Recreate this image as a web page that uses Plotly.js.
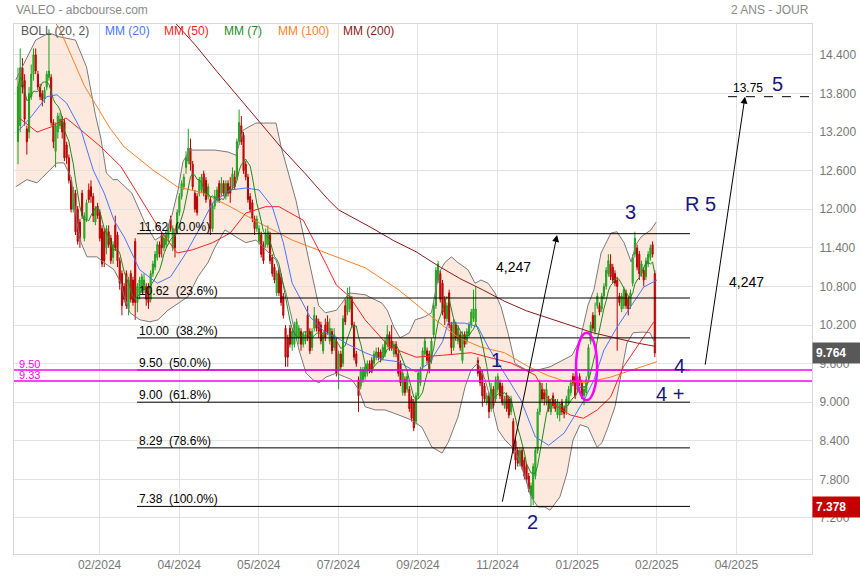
<!DOCTYPE html>
<html><head><meta charset="utf-8">
<script src="https://cdn.plot.ly/plotly-3.0.1.min.js"></script>
<style>html,body{margin:0;padding:0;background:#fff}#chart{width:860px;height:580px}</style>
</head><body><div id="chart"></div>
<script>
// ---- Daily candles (one entry per trading day) ----
const open = [
13.05,13.3,14.2,14.0,13.25,13.2,13.75,14.1,14.4,14.1,
13.9,13.8,13.72,13.9,14.05,14.05,13.35,12.9,13.2,13.3,
13.4,13.35,13.0,12.8,12.45,12.0,12.25,12.0,11.8,12.25,
11.55,11.85,12.3,12.35,12.2,11.8,12.05,11.95,11.7,11.65,
11.4,11.65,11.55,11.25,11.75,11.6,11.2,11.0,10.8,11.0,
10.45,11.0,10.9,11.5,10.55,10.7,10.75,10.75,10.8,10.8,
10.6,11.0,11.1,11.25,11.45,11.6,11.4,11.45,11.55,11.85,
11.4,11.6,11.7,11.95,12.2,12.35,12.65,12.75,12.95,12.7,
12.25,12.2,12.25,12.3,12.55,12.45,12.2,12.15,11.7,12.05,
12.15,12.4,12.25,12.4,12.2,12.4,12.35,12.35,12.5,12.5,
13.05,13.3,13.15,12.7,12.5,12.2,12.1,11.85,11.7,11.5,
11.6,11.45,11.45,11.45,11.6,11.25,11.1,10.7,11.05,10.95,
10.65,10.15,10.0,10.15,9.9,9.9,10.0,10.0,10.1,9.9,
9.95,10.35,10.1,9.85,10.15,10.3,10.25,10.2,9.8,10.2,
10.25,9.95,10.1,9.85,9.95,9.5,9.75,9.6,10.5,10.4,
10.45,10.6,10.2,9.75,9.35,9.25,9.35,9.4,9.45,9.6,
9.65,9.6,9.7,9.78,9.78,9.7,9.75,9.9,10.05,9.95,
9.75,9.9,9.75,9.6,9.15,9.35,9.2,9.2,9.05,9.0,
8.7,9.1,9.3,9.55,9.75,9.8,9.75,9.65,10.05,10.5,
10.9,11.0,10.85,10.6,10.3,10.7,10.2,9.85,10.2,9.95,
10.05,9.65,10.05,9.95,10.05,10.2,10.3,10.25,9.65,9.5,
9.45,9.25,9.0,9.1,8.9,9.2,9.05,9.2,9.3,9.25,
8.95,9.1,9.05,8.85,8.7,8.4,8.25,8.05,8.25,8.1,
8.0,7.85,7.55,7.5,7.85,8.25,8.85,9.2,9.15,9.0,
9.05,8.85,9.1,9.0,8.8,8.8,9.0,8.9,8.85,9.0,
9.15,9.4,9.4,9.2,9.4,9.3,9.1,9.15,9.4,9.95,
10.35,10.1,10.5,10.5,10.45,10.65,10.8,11.0,11.15,11.1,
11.0,10.9,10.65,10.45,10.5,10.7,10.6,10.5,10.85,11.3,
11.4,11.3,11.0,11.05,10.95,11.15,11.25,11.45,11.0];
const high = [
14.2,14.5,14.35,14.1,13.3,13.9,14.25,14.5,14.5,14.15,
13.95,13.85,13.9,14.15,14.8,14.1,13.4,13.35,13.5,13.5,
13.45,13.4,13.05,12.85,12.5,12.35,12.3,12.05,11.85,12.3,
11.95,12.15,12.4,12.45,12.25,12.05,12.1,12.0,11.75,11.7,
11.75,11.75,11.6,11.5,11.9,11.65,11.25,11.05,10.85,11.05,
10.95,11.05,10.95,11.55,10.85,10.95,11.0,11.0,10.85,10.85,
11.05,11.2,11.35,11.5,11.5,11.65,11.6,11.65,11.75,11.9,
11.75,11.7,12.0,12.25,12.45,12.55,12.9,13.25,13.1,12.75,
12.3,12.25,12.5,12.55,12.6,12.5,12.4,12.2,12.1,12.3,
12.35,12.45,12.5,12.45,12.45,12.45,12.5,12.65,12.6,13.1,
13.55,13.45,13.2,12.75,12.55,12.25,12.15,11.9,11.9,11.75,
11.65,11.5,11.7,11.75,11.65,11.3,11.15,11.05,11.1,11.0,
10.7,10.2,10.05,10.2,10.15,10.25,10.3,10.2,10.15,10.1,
10.1,10.5,10.15,10.15,10.48,10.35,10.3,10.25,10.1,10.3,
10.35,10.3,10.15,10.15,10.0,9.8,9.8,10.35,10.6,10.78,
10.8,10.65,10.25,9.8,9.4,9.55,9.55,9.6,9.65,9.65,
9.7,9.8,9.85,9.85,9.82,9.9,10.0,10.2,10.1,10.2,
9.95,9.95,9.8,9.65,9.5,9.4,9.45,9.25,9.1,9.05,
9.15,9.5,9.55,9.85,10.0,9.85,9.8,10.0,10.55,11.1,
11.2,11.05,10.9,10.65,10.55,10.75,10.25,10.3,10.25,10.2,
10.1,10.1,10.1,10.15,10.25,10.45,10.75,10.8,9.7,9.55,
9.5,9.3,9.15,9.15,9.3,9.25,9.4,9.45,9.35,9.3,
9.1,9.15,9.1,9.1,8.75,8.45,8.3,8.3,8.3,8.15,
8.05,7.9,7.75,8.05,8.3,8.9,9.35,9.3,9.2,9.3,
9.1,9.05,9.15,9.05,9.05,9.0,9.05,8.95,9.1,9.25,
9.35,9.45,9.45,9.4,9.45,9.35,9.25,9.4,9.9,10.25,
10.4,10.55,10.7,10.55,10.7,10.85,11.1,11.3,11.3,11.15,
11.05,10.95,10.7,10.7,10.8,10.75,10.65,10.75,11.3,11.65,
11.45,11.35,11.2,11.1,11.25,11.35,11.45,11.5,11.05];
const low = [
12.7,13.2,13.8,13.3,12.85,13.1,13.7,14.0,14.1,13.85,
13.7,13.6,13.65,13.85,14.0,13.3,12.95,12.65,13.1,13.25,
13.1,12.75,12.7,12.4,11.95,11.95,11.6,11.45,11.4,11.85,
11.5,11.8,12.1,12.1,11.8,11.75,11.85,11.5,11.1,11.1,
11.3,11.4,11.15,11.15,11.35,11.1,10.75,10.35,10.55,10.45,
10.35,10.55,10.5,10.28,10.4,10.6,10.7,10.7,10.5,10.45,
10.55,10.95,11.05,11.2,11.25,11.25,11.35,11.4,11.5,11.65,
11.35,11.25,11.65,11.9,12.15,12.3,12.55,12.7,12.6,12.3,
11.95,11.9,12.2,12.25,12.2,12.1,12.15,11.6,11.65,12.0,
12.1,12.1,12.2,12.2,12.15,12.2,12.1,12.3,12.3,12.45,
13.0,13.0,12.55,12.45,12.1,11.95,11.8,11.6,11.65,11.45,
11.25,11.15,11.4,11.4,11.15,10.95,10.85,10.65,10.65,10.5,
10.3,9.55,9.55,9.85,9.8,9.85,9.95,9.9,9.8,9.85,
9.9,9.95,9.75,9.8,10.1,10.1,10.0,9.9,9.75,9.95,
10.05,9.9,9.75,9.8,9.4,9.2,9.5,9.55,10.2,10.35,
10.4,10.15,9.65,9.55,8.85,9.2,9.3,9.35,9.4,9.45,
9.45,9.55,9.65,9.65,9.62,9.65,9.7,9.85,9.8,9.8,
9.7,9.7,9.4,9.25,9.1,9.1,9.15,8.85,8.7,8.55,
8.65,9.05,9.25,9.5,9.7,9.6,9.45,9.6,10.0,10.45,
10.85,10.55,10.35,10.2,10.25,10.15,9.75,9.8,9.95,9.9,
9.8,9.6,9.85,9.9,10.0,10.15,10.25,10.2,9.4,9.25,
8.93,9.0,8.95,8.75,8.85,8.9,9.0,9.15,9.05,8.95,
8.9,8.85,8.75,8.8,8.2,7.95,8.0,8.0,7.95,7.8,
7.75,7.6,7.378,7.4,7.8,8.2,8.8,9.0,8.95,8.95,
8.85,8.8,8.9,8.85,8.75,8.7,8.8,8.75,8.8,8.95,
9.1,9.25,9.05,9.15,9.25,9.05,8.95,9.1,9.35,9.9,
10.1,10.05,10.45,10.35,10.4,10.6,10.75,10.95,10.9,10.85,
10.8,9.8,10.5,10.4,10.45,10.45,10.35,10.45,10.8,11.25,
11.05,10.9,10.95,10.8,10.9,11.1,11.2,11.25,9.7];
const close = [
13.9,14.2,13.9,13.4,13.05,13.8,14.1,14.4,14.15,13.9,
13.75,13.7,13.85,14.1,14.15,13.35,13.05,13.3,13.45,13.4,
13.2,12.8,12.8,12.45,12.0,12.3,11.65,11.5,11.55,11.9,
11.9,12.1,12.15,12.2,11.9,12.0,11.9,11.55,11.15,11.2,
11.7,11.45,11.2,11.45,11.4,11.2,10.85,10.5,10.6,10.5,
10.9,10.6,10.55,10.55,10.8,10.9,10.95,10.9,10.6,10.55,
11.0,11.15,11.3,11.45,11.3,11.4,11.55,11.6,11.7,11.7,
11.7,11.4,11.95,12.2,12.4,12.5,12.8,12.95,12.7,12.35,
12.0,11.95,12.45,12.5,12.25,12.15,12.35,11.7,12.05,12.2,
12.3,12.15,12.4,12.25,12.4,12.25,12.25,12.55,12.35,13.05,
13.35,13.05,12.6,12.5,12.15,12.0,11.85,11.7,11.85,11.7,
11.3,11.2,11.6,11.65,11.2,11.0,10.9,11.0,10.7,10.55,
10.35,9.7,9.7,9.9,10.1,10.2,10.25,10.15,9.9,10.05,
10.05,10.0,9.8,10.1,10.35,10.15,10.1,9.95,10.05,10.0,
10.1,10.15,9.8,10.05,9.45,9.75,9.55,10.3,10.25,10.6,
10.65,10.2,9.7,9.6,9.1,9.5,9.5,9.55,9.6,9.5,
9.5,9.75,9.78,9.7,9.68,9.85,9.95,10.05,9.85,9.85,
9.9,9.75,9.45,9.3,9.45,9.15,9.4,8.9,8.75,8.6,
9.1,9.45,9.5,9.8,9.95,9.65,9.5,9.95,10.5,11.05,
11.15,10.6,10.4,10.3,10.5,10.2,9.85,10.25,10.0,10.15,
9.85,10.05,9.9,10.1,10.2,10.4,10.45,10.45,9.45,9.3,
9.1,9.05,9.1,8.85,9.2,8.95,9.35,9.4,9.1,9.0,
9.05,8.9,8.8,9.05,8.25,8.1,8.05,8.25,8.0,7.85,
7.8,7.65,7.7,8.0,8.25,8.85,9.3,9.05,9.05,9.2,
8.9,9.0,8.95,8.9,8.98,8.95,8.85,8.82,9.05,9.2,
9.3,9.3,9.1,9.35,9.3,9.1,9.2,9.35,9.85,10.2,
10.15,10.35,10.65,10.4,10.65,10.8,11.05,11.2,10.95,10.9,
10.85,10.8,10.55,10.65,10.75,10.5,10.45,10.7,11.25,11.55,
11.1,11.0,11.15,10.9,11.2,11.3,11.4,11.3,9.764];

// ---- Indicator lines (bar index, value) ----
const bollUpBar = [-1,8,14,19,26,31,35,37.5,40,43,45,51.5,57.4,62,66.5,69.6,72.4,74.6,77.8,89,95,98.6,101.8,107.6,116.7,119,125.7,131.6,136,139,144,146.5,149.7,157,164.6,167,170,172.8,177,179.6,184,187,190.4,193,196,199,203.5,206.7,209.4,212.6,215.7,218.5,221.6,224.8,231.6,240.6,246.5,250.6,254.2,257.8,260.5,263.7,268.2,270.9,274.1,277.3,279.5,281.8,286.3,288.6];
const bollUp = [14.01,14.63,14.74,14.68,14.63,14.21,13.47,13.1,12.56,12.46,12.46,12.25,11.79,11.52,11.62,11.9,12.3,12.74,12.92,12.92,12.89,12.84,13.23,13.34,13.34,12.97,12.14,11.21,10.5,10.39,10.43,10.54,10.70,10.67,10.54,10.43,10.17,10.0,10.08,10.28,10.33,10.39,11.01,11.17,11.26,11.17,11.06,10.85,10.9,10.85,10.7,10.48,10.08,9.6,9.47,9.55,9.66,9.73,9.97,10.51,10.75,11.32,11.63,11.65,11.48,11.18,11.45,11.57,11.68,11.8];
const bollLowBar = [-1,4,8.6,13,17.6,20.8,24,26.7,28.5,31.2,35.7,38.9,43.4,46.6,48,50.7,55.2,59.7,63.3,67.8,72.4,76.9,81.4,85.9,89.1,93.6,98.6,103,107.6,116.7,121.2,124.4,127.1,130.3,133.4,136.1,139.3,143.8,151,154.2,157,161.5,166,172.3,178.2,182.7,187.2,191.8,194.5,199,202.2,204.9,208,211.2,213.9,217.1,220.3,224.8,229.3,232,235.2,238.4,240.6,245.1,248.3,251,254.2,257.8,261.9,264.1,266.8,270,273.2,275.4,278.2,282.7,285.8,288.1];
const bollLow = [12.35,12.46,12.41,12.56,12.72,12.72,12.5,11.79,11.48,11.26,11.26,11.17,11.06,10.85,10.64,10.39,10.28,10.25,10.28,10.43,10.54,10.64,10.95,11.17,11.41,11.68,11.57,11.48,11.52,11.21,10.7,10.23,9.81,9.45,9.35,9.3,9.39,9.45,9.35,9.19,8.93,8.88,8.88,8.8,8.72,8.61,8.3,8.21,8.37,8.77,9.24,9.5,9.61,9.35,9.03,8.57,8.41,8.26,7.84,7.53,7.37,7.37,7.32,7.53,7.9,8.41,8.65,8.61,8.3,8.37,8.61,8.93,9.55,9.92,10.08,10.09,10.08,9.92];
const mm20Bar = [0.5,6,13,17.6,22,28.5,34,39,43.4,48,55,63,69,76,81,88,96,103,109,115,120,124,132,139,144,148,157,165,172,180,186,192,194.5,202,208,212.6,220,227.5,234,240,247,256,260.5,265,271,277,283,289];
const mm20 = [13.23,13.44,13.75,13.78,13.65,13.23,12.61,12.25,11.83,11.57,11.06,10.85,10.95,11.32,11.63,12.1,12.3,12.33,12.3,12.04,11.48,10.85,10.33,10.08,10.01,9.92,9.77,9.66,9.63,9.47,9.61,9.94,10.23,10.23,10.17,9.86,9.45,9.03,8.46,8.33,8.52,9.03,9.35,9.81,10.17,10.48,10.79,10.9];
const mm50Bar = [0.5,8.6,15,21.7,28.5,37.5,46.6,55.2,64.2,72,79,88,96,103,112,118,129,139,144,150,157,168,180,192,205,212.6,223,234,240.6,249.9,255.8,262,268,273.8,280,287.6];
const mm50 = [13.42,13.2,13.28,13.42,13.23,12.97,12.66,12.19,11.68,11.32,11.37,11.48,11.63,11.94,12.04,12.04,11.83,11.17,10.82,10.64,10.28,9.86,9.7,9.73,9.77,9.7,9.61,9.42,9.0,8.8,8.75,8.88,9.08,9.55,9.86,10.25];
const mm100Bar = [16.7,19,30,41.6,48,61,72,84,96,109,124,144,157,172,187,199,209,220,231,240,247,256,268,282,289];
const mm100 = [14.91,14.79,13.92,13.26,12.97,12.61,12.35,12.25,12.04,11.79,11.52,11.26,11.09,10.75,10.33,10.01,9.86,9.77,9.55,9.41,9.33,9.3,9.39,9.55,9.63];
const mm200Bar = [70,80,90,100,110,120,130,140,145,150,160,170,180,190,200,210,220,230,240,250,260,270,280,288];
const mm200 = [14.94,14.56,14.14,13.73,13.33,12.92,12.55,12.16,11.99,11.9,11.71,11.51,11.34,11.12,10.92,10.75,10.57,10.42,10.31,10.19,10.08,10.0,9.92,9.87];

// ---- Fibonacci retracement levels & labels ----
const fibLevels = [11.62,10.62,10.00,9.50,9.00,8.29,7.38];
const fibPct = ['0.0%','23.6%','38.2%','50.0%','61.8%','78.6%','100.0%'];
const supportLevels = [9.50,9.33];
const target = 13.75;
const lastPrice = 9.764, minPrice = 7.378;

// ---- Axis ticks ----
const yTicks = [7.2,7.8,8.4,9.0,9.6,10.2,10.8,11.4,12.0,12.6,13.2,13.8,14.4];
const xTickLabels = ['02/2024','04/2024','05/2024','07/2024','09/2024','11/2024','01/2025','02/2025','04/2025'];
const xTickBars = [36.9,72.9,108.9,144.9,180.9,216.9,252.9,288.9,324.9];

// ---- Derived ----
const bars = close.map((_, i) => i);
const mm7 = close.map((c, i) => { const s = close.slice(Math.max(0, i - 6), i + 1); return s.reduce((a, b) => a + b, 0) / s.length; });

const xMin = -1.81, xMax = 359.1;
const fibX0 = 53.8, fibX1 = 303.9;
const navy = '#161682';
const FONT = 'Arial, "Liberation Sans", sans-serif';

const line = (x, y, color, w) => ({type:'scatter', mode:'lines', x, y, line:{color, width:w||1}, hoverinfo:'skip', showlegend:false});

const traces = [
  {type:'candlestick', x:bars, open, high, low, close, whiskerwidth:0,
   increasing:{line:{color:'#1e9e1e', width:1}, fillcolor:'#33d633'},
   decreasing:{line:{color:'#b30000', width:1}, fillcolor:'#e31515'},
   hoverinfo:'skip', showlegend:false},
  line(bollLowBar, bollLow, '#7a7a7a', 1),
  line(bollUpBar, bollUp, '#7a7a7a', 1),
  line(mm200Bar, mm200, '#8b1a1a', 1),
  line(mm100Bar, mm100, '#ff7f27', 1),
  line(mm50Bar, mm50, '#ff2222', 1),
  line(mm20Bar, mm20, '#4a74ff', 1),
  line(bars, mm7, '#1f8a1f', 1)
];

const shapes = [];
// Bollinger band fill, drawn beneath the candles (built from the band arrays)
const bandPath = 'M ' + bollUpBar.map((b, i) => b + ',' + bollUp[i]).join(' L ') + ' L ' +
  bollLowBar.map((b, i) => b + ',' + bollLow[i]).reverse().join(' L ') + ' Z';
shapes.push({type:'path', xref:'x', yref:'y', path:bandPath, fillcolor:'#fde9dd', line:{width:0}, layer:'below'});
fibLevels.forEach(v => shapes.push({type:'line', xref:'x', yref:'y', x0:fibX0, x1:fibX1, y0:v, y1:v, line:{color:'#000', width:1}}));
supportLevels.forEach(v => shapes.push({type:'line', xref:'paper', yref:'y', x0:0, x1:1, y0:v, y1:v, line:{color:'#ff00ff', width:1.5}}));
shapes.push({type:'line', xref:'x', yref:'y', x0:321.1, x1:xMax, y0:target, y1:target, line:{color:'#000', width:1, dash:'dash'}});
shapes.push({type:'circle', xref:'x', yref:'y', x0:252.4, x1:261.9, y0:9.03, y1:10.08, line:{color:'#ff00ff', width:2.5}});

const ann = [];
const px = p => (p - 14) / 798;
// title row
ann.push({xref:'paper', yref:'paper', x:0, y:1.026, xanchor:'left', yanchor:'middle', showarrow:false, text:'VALEO - abcbourse.com', font:{family:FONT, size:12, color:'#8a8a8a'}});
ann.push({xref:'paper', yref:'paper', x:px(811), y:1.026, xanchor:'right', yanchor:'middle', showarrow:false, text:'2 ANS - JOUR', font:{family:FONT, size:12, color:'#8a8a8a'}});
// indicator legend
const legendItems = [['BOLL (20, 2)','#555555',19],['MM (20)','#4a74ff',103],['MM (50)','#ff2222',162],['MM (7)','#1f8a1f',222],['MM (100)','#ff7f27',276],['MM (200)','#8b1a1a',341]];
legendItems.forEach(([t, c, p]) => ann.push({xref:'paper', yref:'paper', x:px(p), y:0.987, xanchor:'left', yanchor:'middle', showarrow:false, text:t, font:{family:FONT, size:12, color:c}}));
// fib labels
fibLevels.forEach((v, i) => ann.push({xref:'x', yref:'y', x:fibX0, y:v, xanchor:'left', yanchor:'middle', yshift:7, showarrow:false, text:v.toFixed(2) + '\u00a0\u00a0(' + fibPct[i] + ')', font:{family:FONT, size:12, color:'#000'}}));
// support labels
supportLevels.forEach(v => ann.push({xref:'paper', yref:'y', x:0.004, y:v, xanchor:'left', yanchor:'middle', yshift:6, showarrow:false, text:v.toFixed(2), font:{family:FONT, size:11, color:'#ff00ff'}}));
// arrows
ann.push({xref:'x', yref:'y', axref:'x', ayref:'y', x:243.8, y:11.6, ax:218.9, ay:7.43, text:'', showarrow:true, arrowhead:2, arrowsize:1.4, arrowwidth:1, arrowcolor:'#000', standoff:0});
ann.push({xref:'x', yref:'y', axref:'x', ayref:'y', x:328.8, y:13.75, ax:310.7, ay:9.56, text:'', showarrow:true, arrowhead:2, arrowsize:1.4, arrowwidth:1, arrowcolor:'#000', standoff:0});
// texts
const txt = (x, y, t, size, color) => ann.push({xref:'x', yref:'y', x, y, xanchor:'center', yanchor:'middle', showarrow:false, text:t, font:{family:FONT, size, color}});
txt(224.3, 11.10, '4,247', 14, '#000');
txt(329.3, 10.87, '4,247', 14, '#000');
txt(330.2, 13.88, '13.75', 12, '#000');
txt(343.3, 13.95, '5', 20, navy);
txt(308.5, 12.08, 'R 5', 20, navy);
txt(276.8, 11.96, '3', 20, navy);
txt(216.6, 9.66, '1', 20, navy);
txt(232.9, 7.14, '2', 20, navy);
txt(299.0, 9.56, '4', 20, navy);
txt(294.9, 9.13, '4 +', 20, navy);
// price boxes on the axis
ann.push({xref:'paper', yref:'y', x:1, y:lastPrice, xanchor:'left', yanchor:'middle', showarrow:false, text:'<b>' + lastPrice.toFixed(3) + '</b>', bgcolor:'#585858', borderpad:3, width:42, align:'left', font:{family:FONT, size:12, color:'#fff'}});
ann.push({xref:'paper', yref:'y', x:1, y:minPrice, xanchor:'left', yanchor:'middle', showarrow:false, text:'<b>' + minPrice.toFixed(3) + '</b>', bgcolor:'#c40000', borderpad:3, width:42, align:'left', font:{family:FONT, size:12, color:'#fff'}});

const layout = {
  width:860, height:580,
  margin:{l:14, r:48, t:24, b:26},
  paper_bgcolor:'#fff', plot_bgcolor:'#fff', showlegend:false,
  font:{family:FONT, size:12, color:'#777'},
  xaxis:{range:[xMin, xMax], tickmode:'array', tickvals:xTickBars, ticktext:xTickLabels, showgrid:true, gridcolor:'#e2e2e2', zeroline:false,
         showline:true, linecolor:'#d6d6d6', mirror:true, ticks:'', rangeslider:{visible:false}, tickfont:{family:FONT, size:12, color:'#777'}},
  yaxis:{side:'right', range:[6.64, 14.88], tickmode:'array', tickvals:yTicks, tickformat:'.3f', showgrid:true, gridcolor:'#e2e2e2', zeroline:false,
         showline:true, linecolor:'#d6d6d6', mirror:true, ticks:'', ticklabelstandoff:4, tickfont:{family:FONT, size:12, color:'#777'}},
  shapes, annotations:ann
};
Plotly.newPlot('chart', traces, layout, {displayModeBar:false, staticPlot:true});
</script>
</body></html>
